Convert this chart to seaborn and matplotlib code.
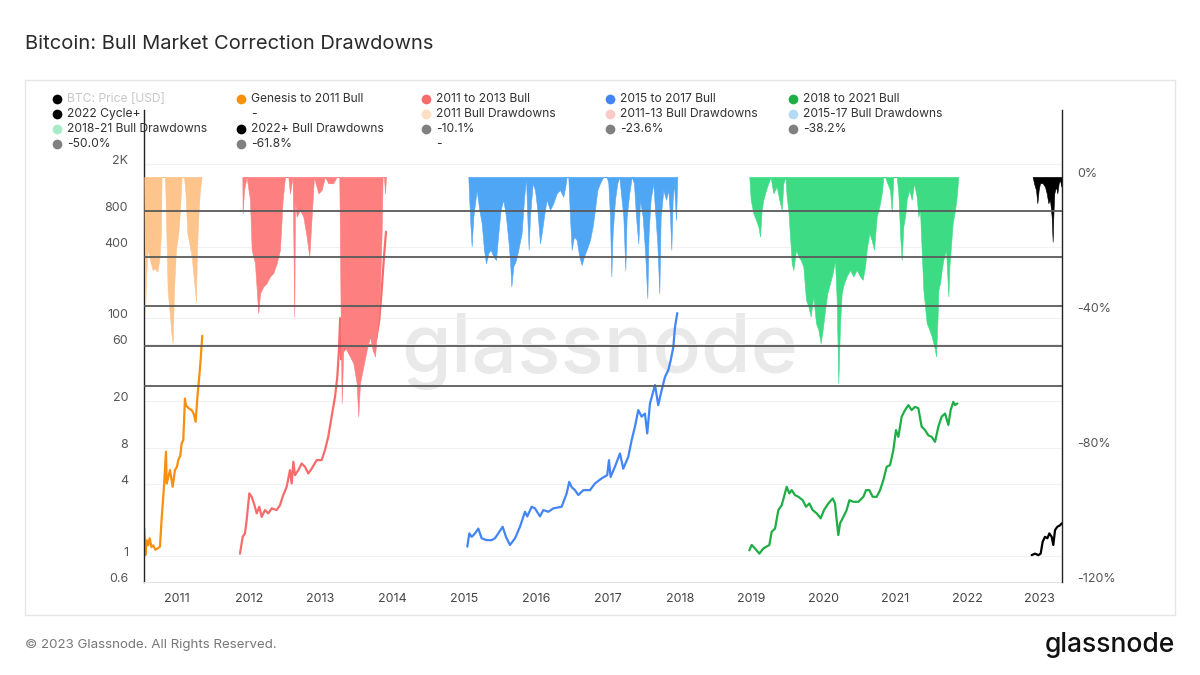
import matplotlib
matplotlib.use('Agg')
import matplotlib.pyplot as plt
from matplotlib.lines import Line2D
from matplotlib.patches import Rectangle
from matplotlib.ticker import NullLocator
import seaborn as sns

# ---- values (x = decimal year) ----
# price multiple since cycle low (left, log axis)
genesis_year = [2010.545, 2010.559, 2010.578, 2010.600, 2010.620, 2010.645, 2010.670, 2010.700, 2010.730,
                2010.763, 2010.787, 2010.819, 2010.847, 2010.857, 2010.880, 2010.903, 2010.940, 2010.972,
                2011.000, 2011.018, 2011.045, 2011.065, 2011.088, 2011.111, 2011.125, 2011.143, 2011.175,
                2011.205, 2011.235, 2011.260, 2011.288, 2011.310, 2011.330, 2011.352]
genesis_price = [1.69, 1.01, 1.35, 1.22, 1.40, 1.18, 1.22, 1.12, 1.15,
                 1.19, 2.06, 3.8, 7.5, 4.05, 4.6, 5.25, 3.8, 5.25,
                 5.6, 6.4, 6.9, 8.8, 9.4, 21, 18.5, 17.9, 17.2,
                 16.8, 15.5, 13.4, 23, 32, 45, 71]

bull13_year = [2011.877, 2011.915, 2011.947, 2011.970, 2012.007, 2012.040, 2012.072, 2012.110, 2012.146,
               2012.179, 2012.225, 2012.271, 2012.318, 2012.388, 2012.434, 2012.471, 2012.527, 2012.573,
               2012.597, 2012.620, 2012.643, 2012.689, 2012.736, 2012.782, 2012.828, 2012.875, 2012.945,
               2013.014, 2013.060, 2013.106, 2013.153, 2013.200, 2013.232, 2013.255, 2013.272, 2013.286,
               2013.306, 2013.362, 2013.408, 2013.454, 2013.501, 2013.524, 2013.548, 2013.593, 2013.663,
               2013.743, 2013.780, 2013.816, 2013.850, 2013.882, 2013.910]
bull13_price = [1.04, 1.44, 1.54, 1.99, 3.34, 3.13, 2.75, 2.27, 2.58,
                2.12, 2.42, 2.27, 2.5, 2.42, 2.66, 3.13, 3.8, 5.25,
                4.05, 6.17, 4.76, 5.25, 5.97, 5.6, 4.92, 5.4, 6.37,
                6.37, 7.73, 10, 14.8, 21.7, 32, 54, 100, 45,
                52, 57, 50, 54, 44, 40, 50, 57, 59,
                59, 70, 96, 172, 328, 533]

bull17_year = [2015.042, 2015.070, 2015.103, 2015.150, 2015.195, 2015.242, 2015.312, 2015.381, 2015.427,
               2015.473, 2015.534, 2015.580, 2015.636, 2015.706, 2015.775, 2015.845, 2015.877, 2015.938,
               2015.984, 2016.054, 2016.100, 2016.170, 2016.239, 2016.355, 2016.425, 2016.461, 2016.495,
               2016.541, 2016.587, 2016.657, 2016.750, 2016.819, 2016.912, 2016.990, 2017.014, 2017.037,
               2017.097, 2017.167, 2017.213, 2017.283, 2017.330, 2017.376, 2017.422, 2017.469, 2017.515,
               2017.547, 2017.585, 2017.655, 2017.700, 2017.748, 2017.794, 2017.840, 2017.873, 2017.910,
               2017.933, 2017.965]
bull17_price = [1.19, 1.54, 1.44, 1.54, 1.69, 1.40, 1.35, 1.35, 1.40,
                1.54, 1.75, 1.44, 1.23, 1.40, 1.75, 2.34, 2.14, 2.58,
                2.5, 2.14, 2.42, 2.34, 2.5, 2.58, 3.34, 4.18, 3.77,
                3.56, 3.24, 3.56, 3.56, 4.05, 4.47, 4.77, 6.37, 4.6,
                5.6, 7.25, 5.4, 6.79, 9.4, 12.2, 16.8, 14.8, 15.7,
                10.7, 19.1, 27.3, 18.5, 24.8, 32, 36.5, 44, 57,
                84, 110]

bull21_year = [2018.968, 2019.001, 2019.047, 2019.108, 2019.163, 2019.247, 2019.279, 2019.326, 2019.372,
               2019.419, 2019.451, 2019.488, 2019.525, 2019.558, 2019.604, 2019.651, 2019.711, 2019.757,
               2019.804, 2019.850, 2019.906, 2019.961, 2020.008, 2020.068, 2020.129, 2020.161, 2020.184,
               2020.207, 2020.231, 2020.277, 2020.323, 2020.361, 2020.416, 2020.486, 2020.556, 2020.593,
               2020.639, 2020.685, 2020.741, 2020.788, 2020.834, 2020.880, 2020.927, 2020.973, 2021.010,
               2021.043, 2021.089, 2021.136, 2021.182, 2021.228, 2021.275, 2021.321, 2021.367, 2021.414,
               2021.460, 2021.507, 2021.553, 2021.600, 2021.646, 2021.693, 2021.739, 2021.771, 2021.808,
               2021.832, 2021.864]
bull21_price = [1.11, 1.23, 1.15, 1.04, 1.15, 1.23, 1.59, 1.69, 2.42,
                2.66, 3.13, 3.8, 3.34, 3.56, 3.23, 3.13, 2.93, 2.58,
                2.75, 2.42, 2.27, 2.06, 2.42, 2.75, 3.03, 2.75, 1.99,
                1.49, 1.87, 2.12, 2.42, 2.93, 2.84, 2.84, 3.13, 3.56,
                3.56, 3.13, 3.13, 3.56, 4.32, 5.6, 5.78, 7.73, 11.4,
                10, 14.8, 16.8, 18.5, 16.8, 17.9, 17.4, 12.2, 11.4,
                10.3, 10, 9.08, 12.2, 14.8, 15.7, 12.6, 16.8, 19.7,
                18.5, 19.1]

cycle22_year = [2022.899, 2022.945, 2022.992, 2023.024, 2023.052, 2023.084, 2023.117, 2023.145, 2023.177,
                2023.200, 2023.224, 2023.256, 2023.293, 2023.317]
cycle22_price = [1.01, 1.04, 1.01, 1.04, 1.31, 1.44, 1.40, 1.54, 1.44,
                 1.23, 1.64, 1.75, 1.80, 1.87]

# drawdown from cycle high in % (right axis)
dd11_year = [2010.545, 2010.554, 2010.568, 2010.587, 2010.624, 2010.661, 2010.694, 2010.726, 2010.754,
             2010.777, 2010.786, 2010.833, 2010.842, 2010.870, 2010.903, 2010.926, 2010.940, 2010.958,
             2010.986, 2011.019, 2011.042, 2011.065, 2011.097, 2011.116, 2011.144, 2011.172, 2011.204,
             2011.241, 2011.265, 2011.278, 2011.297, 2011.320, 2011.343]
dd11 = [0, -41.4, -31.5, -21.6, -24.6, -27.6, -27.1, -28.1, -24.6,
        -16.7, 0, 0, -6.8, -33.5, -41.4, -47.3, -49.3, -33.5,
        -21.6, -16.7, -9.8, 0, 0, -3.9, -16.7, -19.7, -23.6,
        -31.5, -36.9, -21.6, -11.8, -3.9, 0]

dd13_year = [2011.910, 2011.914, 2011.933, 2011.970, 2012.016, 2012.040, 2012.086, 2012.132, 2012.156,
             2012.202, 2012.248, 2012.295, 2012.341, 2012.388, 2012.434, 2012.471, 2012.504, 2012.550,
             2012.573, 2012.610, 2012.633, 2012.643, 2012.666, 2012.712, 2012.759, 2012.805, 2012.842,
             2012.875, 2012.907, 2012.968, 2013.014, 2013.060, 2013.107, 2013.176, 2013.223, 2013.260,
             2013.279, 2013.293, 2013.316, 2013.362, 2013.408, 2013.455, 2013.501, 2013.524, 2013.548,
             2013.594, 2013.641, 2013.687, 2013.724, 2013.757, 2013.780, 2013.803, 2013.826, 2013.849,
             2013.863, 2013.882, 2013.896, 2013.910]
dd13 = [0, -10.8, -3.9, 0, -6.8, -21.6, -25.6, -40.4, -34.5,
        -32.5, -31.5, -29.5, -28.5, -25.6, -21.6, -6.8, 0, 0,
        -4.9, 0, -41.4, -6.8, -11.8, -9.8, -11.8, -17.7, -23.6,
        -11.8, 0, -4.9, -3.9, 0, -1.9, -1.9, 0, 0,
        -41.4, -67, -50.2, -51.3, -53.2, -55.2, -61.1, -71, -61.1,
        -56.2, -51.3, -47.3, -51.3, -53.2, -47.3, -41.4, -33.5, -16.7,
        0, 0, -4.9, 0]

dd17_year = [2015.056, 2015.079, 2015.102, 2015.126, 2015.172, 2015.209, 2015.242, 2015.274, 2015.302, 2015.334,
             2015.367, 2015.404, 2015.441, 2015.474, 2015.506, 2015.543, 2015.580, 2015.613, 2015.636, 2015.655,
             2015.682, 2015.720, 2015.752, 2015.798, 2015.831, 2015.859, 2015.877, 2015.896, 2015.914, 2015.952,
             2015.984, 2016.017, 2016.054, 2016.077, 2016.109, 2016.146, 2016.193, 2016.239, 2016.286, 2016.332,
             2016.378, 2016.406, 2016.425, 2016.448, 2016.471, 2016.495, 2016.527, 2016.564, 2016.601, 2016.634,
             2016.666, 2016.703, 2016.750, 2016.787, 2016.819, 2016.852, 2016.889, 2016.935, 2016.982, 2017.005,
             2017.028, 2017.047, 2017.065, 2017.098, 2017.130, 2017.158, 2017.181, 2017.214, 2017.242, 2017.260,
             2017.297, 2017.330, 2017.362, 2017.390, 2017.423, 2017.446, 2017.483, 2017.515, 2017.548, 2017.566,
             2017.594, 2017.631, 2017.655, 2017.687, 2017.715, 2017.734, 2017.771, 2017.808, 2017.840, 2017.864,
             2017.882, 2017.901, 2017.919, 2017.947, 2017.966]
dd17 = [0, -11.8, -20.6, -11.8, -3.9, -9.8, -13.7, -21.6, -25.6, -22.6,
        -21.6, -23.6, -24.6, -16.7, -9.8, -6.8, -11.8, -18.7, -24.6, -32.5,
        -26.6, -24.6, -21.6, -16.7, -6.8, 0, -11.8, -21.6, -11.8, -1.9,
        -3.9, -9.8, -19.7, -16.7, -11.8, -6.8, -9.8, -7.8, -4.9, -3.9,
        -5.9, -2.9, 0, 0, -11.8, -21.6, -17.7, -18.7, -23.6, -26.1,
        -23.6, -21.6, -18.7, -14.7, -9.8, -3.9, -1.9, 0, 0, -1.9,
        -11.8, -29.5, -16.7, -6.8, -1.9, 0, -4.9, -11.8, -27.6, -11.8,
        -4.9, 0, -1.9, -11.8, -19.7, -6.8, -11.8, -21.6, -35.9, -16.7,
        -6.8, -1.9, -9.8, -19.7, -34.5, -11.8, -3.9, -6.8, -3.9, -11.8,
        -21.6, -6.8, -1.9, -12.8, 0]

dd21_year = [2018.968, 2018.987, 2019.024, 2019.061, 2019.094, 2019.117, 2019.140, 2019.163, 2019.200, 2019.233,
             2019.265, 2019.302, 2019.349, 2019.386, 2019.419, 2019.442, 2019.470, 2019.488, 2019.511, 2019.535,
             2019.558, 2019.581, 2019.618, 2019.651, 2019.683, 2019.720, 2019.757, 2019.790, 2019.822, 2019.859,
             2019.896, 2019.929, 2019.961, 2019.989, 2020.022, 2020.054, 2020.091, 2020.129, 2020.161, 2020.184,
             2020.207, 2020.231, 2020.254, 2020.286, 2020.323, 2020.370, 2020.416, 2020.463, 2020.509, 2020.546,
             2020.579, 2020.602, 2020.639, 2020.671, 2020.704, 2020.741, 2020.778, 2020.811, 2020.834, 2020.857,
             2020.890, 2020.927, 2020.950, 2020.973, 2021.020, 2021.043, 2021.066, 2021.089, 2021.112, 2021.136,
             2021.159, 2021.196, 2021.228, 2021.261, 2021.298, 2021.321, 2021.344, 2021.367, 2021.391, 2021.414,
             2021.437, 2021.474, 2021.507, 2021.530, 2021.553, 2021.567, 2021.586, 2021.600, 2021.623, 2021.646,
             2021.669, 2021.706, 2021.739, 2021.753, 2021.771, 2021.799, 2021.832, 2021.855, 2021.878]
dd21 = [0, -6.8, -10.8, -12.8, -14.7, -17.7, -9.8, -6.8, -3.9, -1.9,
        0, -4.9, -2.9, -6.8, -9.8, -1.9, 0, -5.9, -9.8, -17.7,
        -25.6, -27.6, -21.6, -23.6, -24.6, -26.6, -36.4, -38.4, -41.4, -35.4,
        -43.3, -45.3, -49.3, -45.3, -39.4, -34.5, -31.5, -28.5, -24.6, -36.4,
        -61.1, -43.3, -34.5, -31.5, -29.5, -27.6, -29.5, -27.6, -29.5, -30.5,
        -26.6, -21.6, -16.7, -18.7, -21.6, -11.8, -8.8, -4.9, 0, 0,
        -1.9, -3.9, -10.3, 0, 0, -4.9, -16.7, -24.6, -14.7, -11.8,
        -6.8, -3.9, -6.8, -1.9, -5.9, -11.8, -9.8, -21.6, -33.5, -38.4,
        -43.3, -45.3, -47.3, -49.3, -51.3, -53.2, -43.3, -33.5, -31.5, -27.6,
        -24.6, -21.6, -35.4, -26.6, -21.6, -13.7, -9.8, -5.9, 0]

dd22_year = [2022.913, 2022.931, 2022.959, 2022.978, 2022.996, 2023.015, 2023.052, 2023.084, 2023.108,
             2023.131, 2023.154, 2023.177, 2023.191, 2023.200, 2023.214, 2023.238, 2023.256, 2023.275,
             2023.293, 2023.312, 2023.321]
dd22 = [0, -1.9, -3.9, -7.8, -3.9, -1.9, -1.9, -2.9, -4.9,
        -7.8, -6.8, -11.8, -19.2, -11.8, -4.9, -2.9, -4.9, -1.9,
        -0.9, -2.9, 0]

fib_levels = [-10.1, -23.6, -38.2, -50.0, -61.8]

price_ticks = [0.6, 1, 4, 8, 20, 60, 100, 400, 800, 2000]
price_tick_labels = ['0.6', '1', '4', '8', '20', '60', '100', '400', '800', '2K']
dd_ticks = [0, -40, -80, -120]
dd_tick_labels = ['0%', '-40%', '-80%', '-120%']
years = list(range(2011, 2024))

legend_labels = ['BTC: Price [USD]', 'Genesis to 2011 Bull', '2011 to 2013 Bull', '2015 to 2017 Bull',
                 '2018 to 2021 Bull', '2022 Cycle+', '-', '2011 Bull Drawdowns', '2011-13 Bull Drawdowns',
                 '2015-17 Bull Drawdowns', '2018-21 Bull Drawdowns', '2022+ Bull Drawdowns',
                 '-10.1%', '-23.6%', '-38.2%', '-50.0%', '-61.8%', '-']
legend_colors = ['#000000', '#f7900f', '#f86b6b', '#4285f4', '#1fad45', '#000000', None,
                 '#fde0c4', '#fcc9c9', '#b5d9f7', '#a9ebc7', '#000000',
                 '#808080', '#808080', '#808080', '#808080', '#808080', None]

# ---- styling ----
sns.set_style('white')
plt.rcParams['font.family'] = ['Inter', 'DejaVu Sans']

W, H = 1200, 675
fig = plt.figure(figsize=(12, 6.75), dpi=100)
ax = fig.add_axes([144 / W, 1 - 582 / H, (1062 - 144) / W, (582 - 110) / H])
ax2 = ax.twinx()

# panel frame
fig.add_artist(Rectangle((25 / W, 1 - 615 / H), 1150 / W, 535 / H, transform=fig.transFigure,
                         fill=False, edgecolor='#e6e6e6', linewidth=1))

# watermark under everything
ax.text(0.5, 1 - 352 / H, 'glassnode', transform=fig.transFigure, ha='center', va='center',
        fontsize=58, fontweight='medium', color='#e9e9e9', zorder=0)

# price lines
lines = [(genesis_year, genesis_price, '#f7900f'),
         (bull13_year, bull13_price, '#f86b6b'),
         (bull17_year, bull17_price, '#4285f4'),
         (bull21_year, bull21_price, '#1fad45'),
         (cycle22_year, cycle22_price, '#000000')]
for xs, ys, c in lines:
    sns.lineplot(x=xs, y=ys, ax=ax, color=c, linewidth=1.6, sort=False, zorder=2)

# drawdown areas
fills = [(dd11_year, dd11, '#fdc48c'),
         (dd13_year, dd13, '#fd7f7f'),
         (dd17_year, dd17, '#4fa6f5'),
         (dd21_year, dd21, '#3ddc84'),
         (dd22_year, dd22, '#000000')]
for xs, ys, c in fills:
    ax2.fill_between(xs, ys, 0, color=c, linewidth=0.4, edgecolor=c, zorder=1)

for lvl in fib_levels:
    ax2.axhline(lvl, color='#5a5a5a', linewidth=1.3, zorder=3)

# axes
ax.set_xlim(2010.541, 2023.321)
ax.set_yscale('log')
ax.set_ylim(0.6, 5645)
ax.set_yticks(price_ticks)
ax.set_yticklabels(price_tick_labels)
ax.yaxis.set_minor_locator(NullLocator())
ax.set_xticks(years)
ax.set_xticklabels([str(y) for y in years])
ax.set_xlabel('')
ax.set_ylabel('')
ax.grid(axis='y', color='#f1f1f1', linewidth=0.8)
ax.grid(axis='x', visible=False)

ax2.set_ylim(-120, 19.8)
ax2.set_yticks(dd_ticks)
ax2.set_yticklabels(dd_tick_labels)
ax2.grid(False)

ax.tick_params(axis='y', length=0, pad=11.5, labelsize=9, labelcolor='#555555')
ax.tick_params(axis='x', length=4, width=0.8, color='#dddddd', pad=4, labelsize=9, labelcolor='#444444')
ax2.tick_params(axis='y', length=0, pad=11, labelsize=9, labelcolor='#555555')
# labels sit just above their gridline, as in the original
for t in ax.get_yticklabels() + ax2.get_yticklabels():
    t.set_va('baseline')

for s in ['top', 'right']:
    ax.spines[s].set_visible(False)
for s in ['top', 'left', 'bottom']:
    ax2.spines[s].set_visible(False)
ax.spines['left'].set_color('#222222')
ax.spines['left'].set_linewidth(1)
ax.spines['bottom'].set_color('#e3e3e3')
ax2.spines['right'].set_color('#222222')
ax2.spines['right'].set_linewidth(1)

# legend, laid out in 5 even columns like the original
col_x = [57, 241, 426, 610, 793]
row_y = [99, 114, 129, 144]
for i, (lab, c) in enumerate(zip(legend_labels, legend_colors)):
    r, k = divmod(i, 5)
    fx, fy = col_x[k] / W, 1 - row_y[r] / H
    if c is not None:
        fig.add_artist(Line2D([fx], [fy], marker='o', markersize=7, markeredgewidth=0,
                              color=c, transform=fig.transFigure))
    fig.text(fx + 10 / W, fy, lab, ha='left', va='center', fontsize=8.7,
             color='#c8c8c8' if i == 0 else '#333333')

# title and footer
fig.text(25 / W, 1 - 44 / H, 'Bitcoin: Bull Market Correction Drawdowns', ha='left', va='center',
         fontsize=14.5, color='#2b2b2b')
fig.text(25 / W, 1 - 645 / H, '\u00a9 2023 Glassnode. All Rights Reserved.', ha='left', va='center',
         fontsize=9.6, color='#777777')
fig.text(1175 / W, 1 - 645 / H, 'glassnode', ha='right', va='center', fontsize=19,
         fontweight='medium', color='#111111')

fig.savefig('out.png', dpi=100)
